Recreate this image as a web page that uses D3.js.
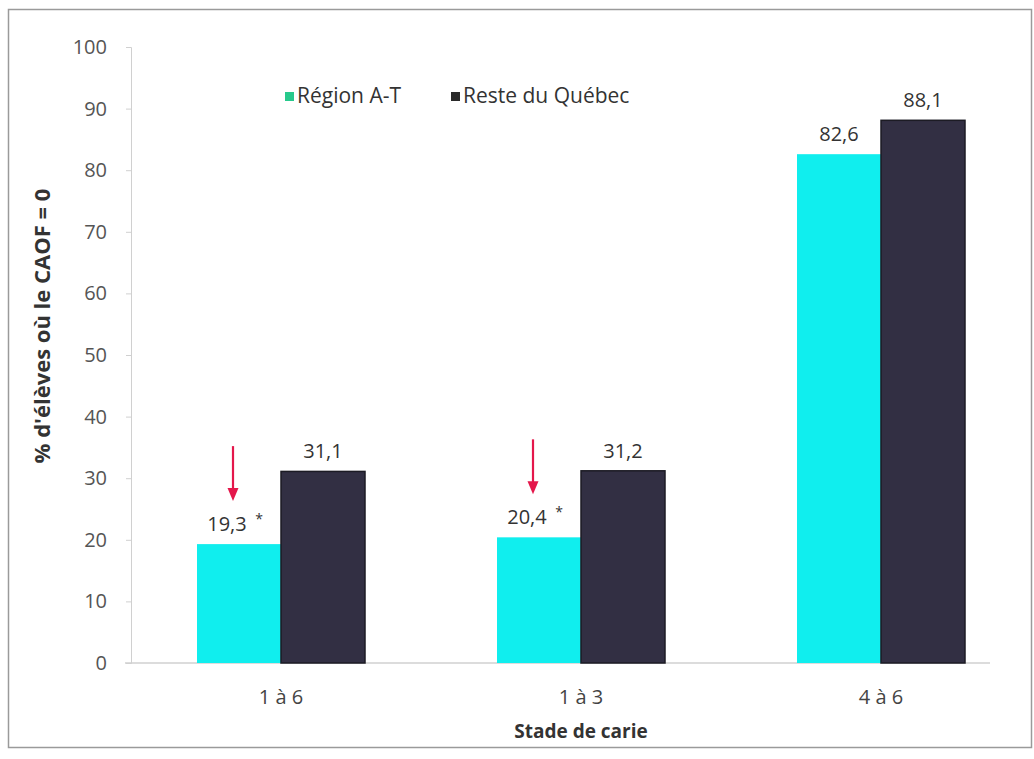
<!DOCTYPE html>
<html>
<head>
<meta charset="utf-8">
<script src="https://cdn.jsdelivr.net/npm/d3@7"></script>
<style>
  html, body { margin: 0; padding: 0; background: #fff; }
  svg { display: block; }
</style>
</head>
<body>
<svg id="chart" width="1034" height="759"></svg>
<script>
const categories = ["1 à 6", "1 à 3", "4 à 6"];
const seriesNames = ["Région A-T", "Reste du Québec"];
const regionAT = [19.3, 20.4, 82.6];
const resteQC = [31.1, 31.2, 88.1];
const significant = [true, true, false];
const yTicks = [0, 10, 20, 30, 40, 50, 60, 70, 80, 90, 100];

const fmt = v => d3.format(".1f")(v).replace(".", ",");

const svg = d3.select("#chart");
const font = "'Open Sans', sans-serif";

// outer border
svg.append("rect").attr("x", 8.5).attr("y", 9.5).attr("width", 1023).attr("height", 738)
  .attr("fill", "#fff").attr("stroke", "#9a9a9a").attr("stroke-width", 1.5);

const plot = { left: 131, right: 1031, top: 47, bottom: 663 };

const y = d3.scaleLinear().domain([0, 100]).range([plot.bottom, plot.top]);
const x0 = d3.scaleBand().domain(categories).range([plot.left, plot.right])
  .paddingInner(0.44).paddingOuter(0.22);
const x1 = d3.scaleBand().domain(seriesNames).range([0, x0.bandwidth()]);

const colors = { "Région A-T": "#10EEEE", "Reste du Québec": "#322F43" };
const legendColors = { "Région A-T": "#27C98C", "Reste du Québec": "#2a2a2a" };

// y axis
const yAxis = d3.axisLeft(y).tickValues(yTicks).tickSize(5).tickPadding(19);
const gy = svg.append("g").attr("transform", `translate(${plot.left},0)`).call(yAxis);
gy.select(".domain").attr("stroke", "#d0d0d0");
gy.selectAll(".tick line").attr("stroke", "#d0d0d0");
gy.selectAll(".tick text").attr("font-family", font).attr("font-size", 20).attr("fill", "#555");

// baseline
svg.append("line").attr("x1", 125).attr("x2", 990)
  .attr("y1", y(0)).attr("y2", y(0)).attr("stroke", "#d0d0d0").attr("stroke-width", 1.5);

// bars
const data = categories.map((c, i) => ({ cat: c, i, vals: [
  { s: seriesNames[0], v: regionAT[i] },
  { s: seriesNames[1], v: resteQC[i] }
]}));

const groups = svg.append("g").selectAll("g").data(data).join("g")
  .attr("transform", d => `translate(${x0(d.cat)},0)`);

groups.selectAll("rect").data(d => d.vals).join("rect")
  .attr("x", d => x1(d.s))
  .attr("y", d => y(d.v))
  .attr("width", x1.bandwidth())
  .attr("height", d => y(0) - y(d.v))
  .attr("fill", d => colors[d.s])
  .attr("stroke", d => d.s === seriesNames[1] ? "#1c1b24" : "none")
  .attr("stroke-width", 1.5);

// value labels
groups.each(function(d) {
  const g = d3.select(this);
  d.vals.forEach((e, k) => {
    const cx = x1(e.s) + x1.bandwidth() / 2;
    const sig = k === 0 && significant[d.i];
    g.append("text")
      .attr("x", sig ? cx - 12 : cx)
      .attr("y", y(e.v) - 13)
      .attr("text-anchor", "middle")
      .attr("font-family", font).attr("font-size", 20).attr("fill", "#333")
      .text(fmt(e.v));
    if (sig) {
      g.append("text").attr("x", cx + 20).attr("y", y(e.v) - 20)
        .attr("text-anchor", "middle")
        .attr("font-family", font).attr("font-size", 14).attr("fill", "#333")
        .text("*");
    }
  });
  if (significant[d.i]) {
    const ax = x1(seriesNames[0]) + x1.bandwidth() / 2 - 6;
    const yTop = y(d.vals[0].v) - 98;
    const yBot = y(d.vals[0].v) - 43;
    g.append("line").attr("x1", ax).attr("x2", ax).attr("y1", yTop).attr("y2", yBot - 8)
      .attr("stroke", "#E4174B").attr("stroke-width", 2.2);
    g.append("path")
      .attr("d", `M${ax - 5.5},${yBot - 13} L${ax + 5.5},${yBot - 13} L${ax},${yBot} Z`)
      .attr("fill", "#E4174B");
  }
});

// category labels
svg.append("g").selectAll("text").data(categories).join("text")
  .attr("x", d => x0(d) + x0.bandwidth() / 2)
  .attr("y", 704)
  .attr("text-anchor", "middle")
  .attr("font-family", font).attr("font-size", 20).attr("fill", "#444")
  .text(d => d);

// axis titles
svg.append("text").attr("x", 581).attr("y", 738).attr("text-anchor", "middle")
  .attr("font-family", font).attr("font-weight", "bold").attr("font-size", 19).attr("fill", "#333")
  .text("Stade de carie");
svg.append("text").attr("transform", "translate(50,326) rotate(-90)").attr("text-anchor", "middle")
  .attr("font-family", font).attr("font-weight", "bold").attr("font-size", 22).attr("fill", "#333")
  .text("% d'élèves où le CAOF = 0");

// legend
const legendX = [285, 451];
const leg = svg.append("g").selectAll("g").data(seriesNames).join("g")
  .attr("transform", (d, i) => `translate(${legendX[i]},92)`);
leg.append("rect").attr("width", 9).attr("height", 9).attr("fill", d => legendColors[d]);
leg.append("text").attr("x", 12).attr("y", 11)
  .attr("font-family", font).attr("font-size", 21).attr("fill", "#333")
  .text(d => d);
</script>
</body>
</html>
